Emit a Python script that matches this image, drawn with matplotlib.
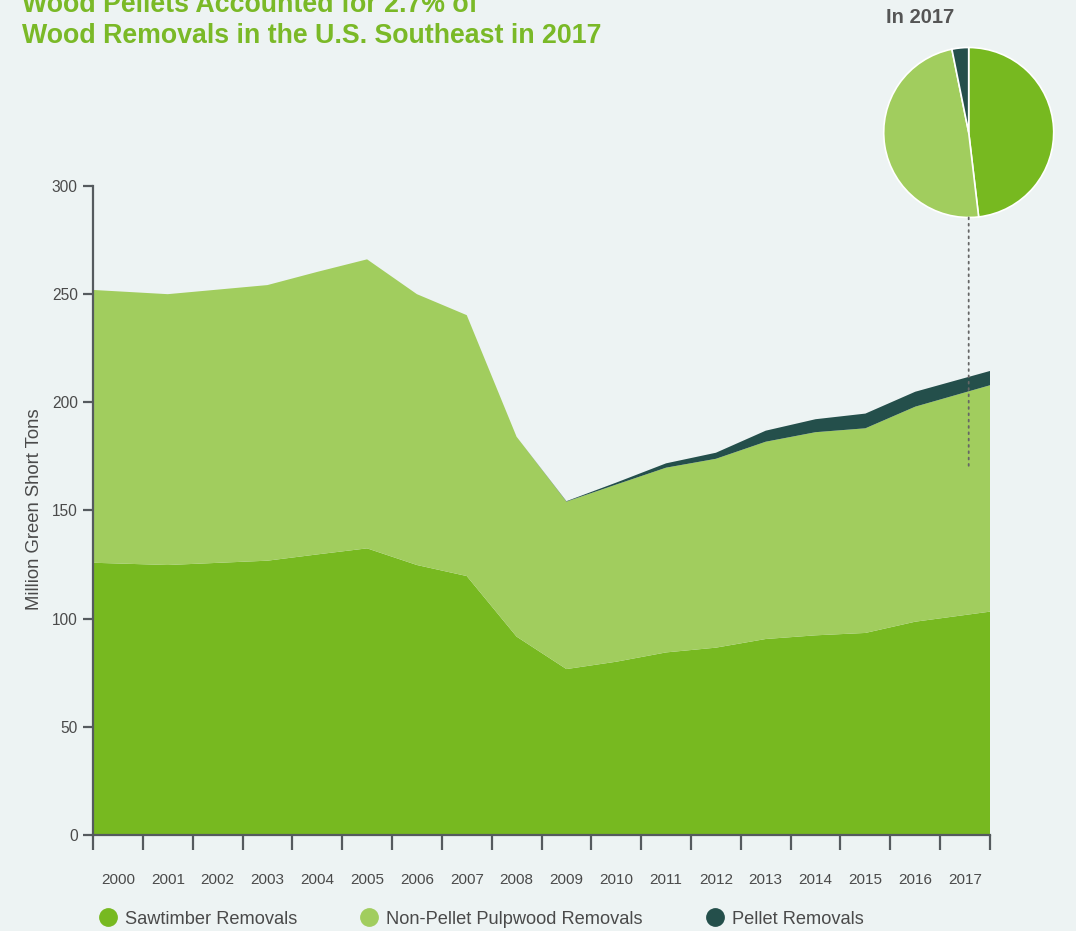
import numpy as np
import matplotlib.pyplot as plt
from matplotlib.lines import Line2D
from matplotlib.patches import ConnectionPatch
from matplotlib.transforms import blended_transform_factory

plt.rcParams['font.family'] = ['Liberation Sans', 'DejaVu Sans']

# million green short tons
years = list(range(2000, 2018))
sawtimber = [125.5, 124.8, 125.8, 126.8, 129.7, 132.5, 124.8, 119.7, 91.7, 76.7,
             80.1, 84.4, 86.6, 90.6, 92.3, 93.4, 98.6, 101.7]
pulpwood = [125.8, 125.2, 126.3, 127.4, 130.6, 133.6, 125.2, 120.6, 92.4, 77.4,
            81.9, 85.4, 87.3, 91.2, 93.9, 94.6, 99.4, 102.9]
pellet = [0, 0, 0, 0, 0, 0, 0, 0, 0, 0.2,
          0.9, 2.0, 2.8, 5.1, 6.0, 6.8, 6.9, 6.7]
labels = ['Sawtimber Removals', 'Non-Pellet Pulpwood Removals', 'Pellet Removals']

c_saw = '#77b920'
c_pulp = '#a1cd5e'
c_pel = '#244f4b'
bg = '#edf3f3'
axis_c = '#555a5e'
text_c = '#4a4a4a'

W, H = 1076, 931
fig = plt.figure(figsize=(W / 100, H / 100), dpi=100, facecolor=bg)

# main area chart
ax = fig.add_axes([93 / W, 1 - 835 / H, (990 - 93) / W, (835 - 186) / H])
ax.set_facecolor(bg)

n = len(years)
xc = np.arange(n) + 0.5


def stretch(v):
    # carry each series out to the band edges
    v = np.asarray(v, float)
    return np.concatenate([[v[0] - (v[1] - v[0]) / 2], v, [v[-1] + (v[-1] - v[-2]) / 2]])


xe = np.concatenate([[0], xc, [n]])
ax.stackplot(xe, stretch(sawtimber), stretch(pulpwood), stretch(pellet),
             colors=[c_saw, c_pulp, c_pel], linewidth=0)

ax.set_xlim(0, n)
ax.set_ylim(0, 300)
for s in ['top', 'right']:
    ax.spines[s].set_visible(False)
for s in ['left', 'bottom']:
    ax.spines[s].set_color(axis_c)
    ax.spines[s].set_linewidth(1.6)

ax.set_yticks(range(0, 301, 50))
ax.tick_params(axis='y', length=7, width=1.6, color=axis_c, labelsize=11.2,
               labelcolor=text_c, pad=4)
ax.set_xticks(np.arange(n + 1))
ax.set_xticklabels([])
ax.tick_params(axis='x', which='major', length=11, width=1.6, color=axis_c)
ax.set_xticks(xc, minor=True)
ax.set_xticklabels([str(y) for y in years], minor=True)
ax.tick_params(axis='x', which='minor', length=0, labelsize=11,
               labelcolor=text_c, pad=27)

fig.text(35 / W, 1 - 509 / H, 'Million Green Short Tons', rotation=90,
         ha='center', va='center', fontsize=13.3, color=text_c)

# title (first line runs off the top)
fig.text(22 / W, 1 - 11.7 / H, 'Wood Pellets Accounted for 2.7% of',
         fontsize=19.3, fontweight='bold', color='#7ab927', va='baseline')
fig.text(22 / W, 1 - 43.3 / H, 'Wood Removals in the U.S. Southeast in 2017',
         fontsize=19.3, fontweight='bold', color='#7ab927', va='baseline')

# 2017 pie
r = 85
cx, cy = 968.7, 132.5
pax = fig.add_axes([(cx - r) / W, 1 - (cy + r) / H, 2 * r / W, 2 * r / H])
pax.pie([sawtimber[-1], pulpwood[-1], pellet[-1]], colors=[c_saw, c_pulp, c_pel],
        startangle=90, counterclock=False, radius=1,
        wedgeprops=dict(edgecolor='white', linewidth=1.2))
pax.set_xlim(-1, 1)
pax.set_ylim(-1, 1)
for p in pax.patches:
    p.set_clip_on(False)
fig.text(886 / W, 1 - 22.7 / H, 'In 2017', fontsize=14.5, fontweight='bold',
         color='#555555', va='baseline')

link = ConnectionPatch(xyA=(0.0, -1.0), coordsA=pax.transData,
                       xyB=(0.0, 169.6),
                       coordsB=blended_transform_factory(pax.transData, ax.transData),
                       color='#666666', linestyle=(0, (1, 2.5)), linewidth=1.3)
fig.add_artist(link)

# legend
handles = [Line2D([], [], marker='o', linestyle='none', markersize=12.5,
                  markerfacecolor=c, markeredgecolor=c)
           for c in [c_saw, c_pulp, c_pel]]
fig.legend(handles, labels, loc='center left', bbox_to_anchor=(99 / W, 1 - 919 / H),
           ncol=3, frameon=False, fontsize=13.15, handlelength=1.0, handletextpad=0.42,
           columnspacing=3.45, borderpad=0, borderaxespad=0, labelcolor=text_c)

fig.savefig('out.png', dpi=100, facecolor=bg)
